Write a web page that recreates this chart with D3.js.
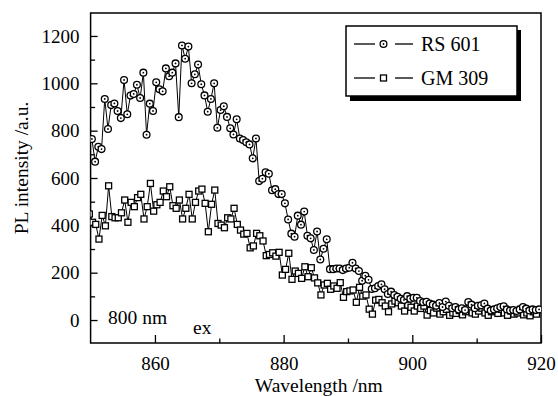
<!DOCTYPE html>
<html><head><meta charset="utf-8">
<script src="https://cdn.jsdelivr.net/npm/d3@7/dist/d3.min.js"></script>
</head><body style="margin:0;background:#fff">
<script>
const wavelengthRS=[850.2,850.7,851.2,851.7,852.2,852.7,853.2,853.7,854.2,854.7,855.2,855.7,856.2,856.7,857.2,857.7,858.2,858.7,859.2,859.7,860.2,860.7,861.2,861.7,862.2,862.7,863.2,863.7,864.2,864.7,865.2,865.7,866.2,866.7,867.2,867.7,868.2,868.7,869.2,869.7,870.2,870.7,871.2,871.7,872.2,872.7,873.2,873.7,874.2,874.7,875.2,875.7,876.2,876.7,877.2,877.7,878.2,878.7,879.2,879.7,880.2,880.7,881.2,881.7,882.2,882.7,883.2,883.7,884.2,884.7,885.2,885.7,886.2,886.7,887.2,887.7,888.2,888.7,889.2,889.7,890.2,890.7,891.2,891.7,892.2,892.7,893.2,893.7,894.2,894.7,895.2,895.7,896.2,896.7,897.2,897.7,898.2,898.7,899.2,899.7,900.2,900.7,901.2,901.7,902.2,902.7,903.2,903.7,904.2,904.7,905.2,905.7,906.2,906.7,907.2,907.7,908.2,908.7,909.2,909.7,910.2,910.7,911.2,911.7,912.2,912.7,913.2,913.7,914.2,914.7,915.2,915.7,916.2,916.7,917.2,917.7,918.2,918.7,919.2,919.7];
const wavelengthGM=[849.8,850.3,850.8,851.3,851.8,852.3,852.8,853.3,853.8,854.3,854.8,855.3,855.8,856.3,856.8,857.3,857.8,858.3,858.8,859.3,859.8,860.3,860.8,861.3,861.8,862.3,862.8,863.3,863.8,864.3,864.8,865.3,865.8,866.3,866.8,867.3,867.8,868.3,868.8,869.3,869.8,870.3,870.8,871.3,871.8,872.3,872.8,873.3,873.8,874.3,874.8,875.3,875.8,876.3,876.8,877.3,877.8,878.3,878.8,879.3,879.8,880.3,880.8,881.3,881.8,882.3,882.8,883.3,883.8,884.3,884.8,885.3,885.8,886.3,886.8,887.3,887.8,888.3,888.8,889.3,889.8,890.3,890.8,891.3,891.8,892.3,892.8,893.3,893.8,894.3,894.8,895.3,895.8,896.3,896.8,897.3,897.8,898.3,898.8,899.3,899.8,900.3,900.8,901.3,901.8,902.3,902.8,903.3,903.8,904.3,904.8,905.3,905.8,906.3,906.8,907.3,907.8,908.3,908.8,909.3,909.8,910.3,910.8,911.3,911.8,912.3,912.8,913.3,913.8,914.3,914.8,915.3,915.8,916.3,916.8,917.3,917.8,918.3,918.8,919.3];
const intensityRS=[765,669,732,722,934,807,908,915,883,853,1014,869,948,955,994,938,1045,783,914,883,1004,975,966,1063,1030,1045,1084,857,1160,1104,1155,1000,1038,1079,996,949,880,934,1000,812,887,903,858,810,784,848,767,760,751,742,683,767,587,597,624,618,548,553,532,532,493,425,365,352,441,403,458,356,345,296,374,256,301,341,215,215,218,218,211,218,221,242,218,207,166,187,170,131,134,144,151,130,110,120,106,98,90,85,101,90,94,94,80,75,77,70,65,60,72,55,78,60,50,55,45,50,42,76,65,50,60,62,70,48,40,45,50,55,58,45,40,42,38,45,55,48,40,45,42,45];
const intensityGM=[448,413,404,342,442,398,567,437,432,432,453,507,413,497,479,517,531,427,479,577,460,487,497,545,521,563,483,472,507,427,472,531,427,497,545,553,493,373,489,549,408,401,390,432,427,472,404,380,363,366,305,313,366,356,334,272,277,284,270,286,190,214,282,172,207,197,176,225,183,221,178,157,106,148,155,130,144,134,158,96,120,123,127,75,138,101,106,46,25,84,87,73,59,35,68,80,73,59,38,63,54,38,59,49,59,21,40,30,50,25,35,45,20,30,28,40,22,35,48,30,25,38,50,30,20,35,42,28,45,30,20,38,25,30,45,22,30,18,35,25];
const seriesNames=["RS 601","GM 309"];
const xTicks=[860,880,900,920];
const xMinor=[870,890,910];
const yTicks=[0,200,400,600,800,1000,1200];
const yMinor=[100,300,500,700,900,1100];

const FONT="Liberation Serif";
const W=558,H=396;
const L=90.6,R=541,T=13,B=343;
const svg=d3.select("body").append("svg").attr("width",W).attr("height",H).style("display","block");
const x=d3.scaleLinear().domain([850,920]).range([L,R]);
const y=d3.scaleLinear().domain([-97,1297]).range([B,T]);

svg.append("defs").append("clipPath").attr("id","clip").append("rect")
  .attr("x",L).attr("y",T).attr("width",R-L).attr("height",B-T);

function serif(sel,size){sel.attr("font-family",FONT).attr("font-size",size)
  .style("font-family",FONT,"important").style("font-size",size+"px","important").attr("fill","#000");return sel;}

// axes
const gx=svg.append("g").attr("transform",`translate(0,${B})`)
  .call(d3.axisBottom(x).tickValues(xTicks).tickSizeInner(-8).tickSizeOuter(0).tickPadding(14).tickFormat(d3.format("d")));
const gxm=svg.append("g").attr("transform",`translate(0,${B})`)
  .call(d3.axisBottom(x).tickValues(xMinor).tickSizeInner(-4.5).tickSizeOuter(0).tickFormat(""));
const gy=svg.append("g").attr("transform",`translate(${L},0)`)
  .call(d3.axisLeft(y).tickValues(yTicks).tickSizeInner(-7).tickSizeOuter(0).tickPadding(11).tickFormat(d3.format("d")));
const gym=svg.append("g").attr("transform",`translate(${L},0)`)
  .call(d3.axisLeft(y).tickValues(yMinor).tickSizeInner(-4.5).tickSizeOuter(0).tickFormat(""));
[gx,gxm,gy,gym].forEach(g=>{
  g.attr("font-family",null).attr("font-size",null);
  g.select(".domain").remove();
  g.selectAll(".tick line").attr("stroke","#000").attr("stroke-width",1.3);
  serif(g.selectAll(".tick text"),19);
});

// frame
svg.append("rect").attr("x",L).attr("y",T).attr("width",R-L).attr("height",B-T)
  .attr("fill","none").attr("stroke","#000").attr("stroke-width",1.5);

const plot=svg.append("g").attr("clip-path","url(#clip)");
const rs=wavelengthRS.map((w,i)=>[w,intensityRS[i]]);
const gm=wavelengthGM.map((w,i)=>[w,intensityGM[i]]);
const line=d3.line().x(d=>x(d[0])).y(d=>y(d[1]));
plot.append("path").datum(gm).attr("d",line).attr("fill","none").attr("stroke","#000").attr("stroke-width",1);
plot.append("path").datum(rs).attr("d",line).attr("fill","none").attr("stroke","#000").attr("stroke-width",1);

function sq(g,cx,cy){g.append("rect").attr("x",cx-3).attr("y",cy-3).attr("width",6).attr("height",6)
  .attr("fill","#fff").attr("stroke","#000").attr("stroke-width",1.3);}
function ci(g,cx,cy){g.append("circle").attr("cx",cx).attr("cy",cy).attr("r",3.4)
  .attr("fill","#fff").attr("stroke","#000").attr("stroke-width",1.3);
  g.append("circle").attr("cx",cx).attr("cy",cy).attr("r",0.9).attr("fill","#000");}
gm.forEach(d=>sq(plot,x(d[0]),y(d[1])));
rs.forEach(d=>ci(plot,x(d[0]),y(d[1])));

// legend
const lg=svg.append("g");
lg.append("rect").attr("x",350).attr("y",30).attr("width",171).attr("height",71).attr("fill","#000");
lg.append("rect").attr("x",346).attr("y",26).attr("width",171).attr("height",70).attr("fill","#fff").attr("stroke","#000").attr("stroke-width",1.5);
[[44,ci],[78,sq]].forEach(([ly,fn],i)=>{
  lg.append("line").attr("x1",354).attr("x2",375).attr("y1",ly).attr("y2",ly).attr("stroke","#000").attr("stroke-width",1.3);
  fn(lg,383.5,ly);
  lg.append("line").attr("x1",395).attr("x2",413).attr("y1",ly).attr("y2",ly).attr("stroke","#000").attr("stroke-width",1.3);
  serif(lg.append("text").attr("x",421).attr("y",ly+6.5),20).text(seriesNames[i]);
});

// annotation
serif(svg.append("text").attr("x",108).attr("y",323.5),19.5).text("800 nm");
serif(svg.append("text").attr("x",193).attr("y",334),19.5).text("ex");

// titles
serif(svg.append("text").attr("x",(L+R)/2+3).attr("y",392).attr("text-anchor","middle"),19.5).text("Wavelength /nm");
serif(svg.append("text").attr("transform",`translate(28,168) rotate(-90)`).attr("text-anchor","middle"),19.5).text("PL intensity /a.u.");
</script>
</body></html>
